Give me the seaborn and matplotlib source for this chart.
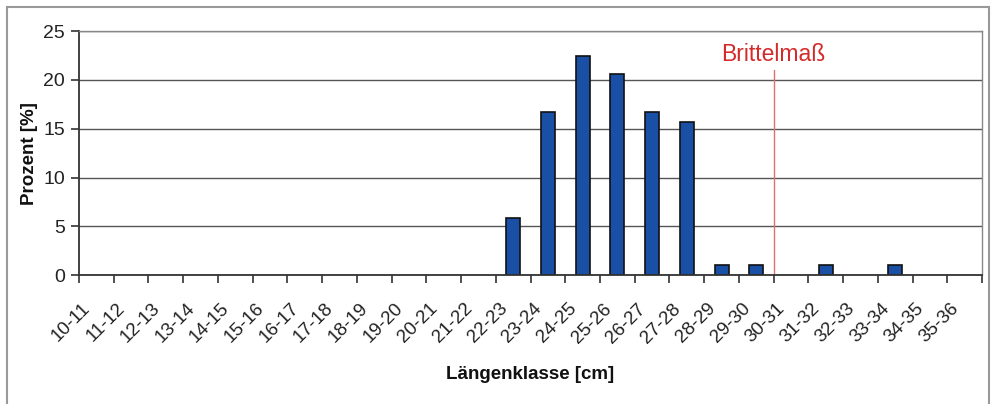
import numpy as np
import pandas as pd
import matplotlib
matplotlib.use("Agg")
import matplotlib.pyplot as plt
import seaborn as sns
from matplotlib.patches import Rectangle
from matplotlib.transforms import ScaledTranslation

classes = ["10-11", "11-12", "12-13", "13-14", "14-15", "15-16", "16-17", "17-18",
           "18-19", "19-20", "20-21", "21-22", "22-23", "23-24", "24-25", "25-26",
           "26-27", "27-28", "28-29", "29-30", "30-31", "31-32", "32-33", "33-34",
           "34-35", "35-36"]
percent = [0, 0, 0, 0, 0, 0, 0, 0,
           0, 0, 0, 0, 5.9, 16.7, 22.5, 20.6,
           16.7, 15.7, 1.0, 1.0, 0, 1.0, 0, 1.0,
           0, 0]
yticks = [0, 5, 10, 15, 20, 25]
limit_class = "30-31"
limit_label = "Brittelmaß"

df = pd.DataFrame({"Klasse": classes, "Prozent": percent})

sns.set_theme(style="ticks")
plt.rcParams["font.family"] = ["Liberation Sans", "DejaVu Sans"]

fig = plt.figure(figsize=(9.96, 4.04), dpi=100)
ax = fig.add_axes([0.0793, 0.319, 0.9067, 0.604])

sns.barplot(data=df, x="Klasse", y="Prozent", order=classes, color="#1a4fa6",
            width=0.4, edgecolor="#111111", linewidth=1.2, saturation=1, ax=ax)
for p in ax.patches:
    if p.get_height() == 0:
        p.set_linewidth(0)

n = len(classes)
ax.set_xlim(-0.5, n - 0.5)
ax.set_ylim(0, 25)
ax.set_yticks(yticks)
ax.set_yticklabels([str(v) for v in yticks], fontsize=14, color="#222222")
ax.set_xticks(np.arange(n + 1) - 0.5)
ax.set_xticklabels(classes + [""], rotation=45, ha="right", rotation_mode="anchor",
                   fontsize=13.5, color="#222222")
ax.tick_params(axis="x", which="major", bottom=True, direction="out", length=6, width=1.2,
               color="#333333", pad=12)
ax.tick_params(axis="y", which="major", left=True, direction="out", length=6, width=1.2,
               color="#333333", pad=4)
off = ScaledTranslation(2 / 72, 0, fig.dpi_scale_trans)
for lbl in ax.get_xticklabels():
    lbl.set_transform(lbl.get_transform() + off)
ax.yaxis.grid(True, color="#555555", linewidth=1.0)
ax.set_axisbelow(True)

for s in ["left", "bottom"]:
    ax.spines[s].set_visible(True)
    ax.spines[s].set_color("#333333")
    ax.spines[s].set_linewidth(1.3)
for s in ["top", "right"]:
    ax.spines[s].set_visible(True)
    ax.spines[s].set_color("#888888")
    ax.spines[s].set_linewidth(1.0)

ax.set_xlabel("Längenklasse [cm]", fontsize=13.5, fontweight="bold", color="#111111", labelpad=14)
ax.set_ylabel("Prozent [%]", fontsize=13.5, fontweight="bold", color="#111111", labelpad=4)

xi = classes.index(limit_class) - 0.5
ax.plot([xi, xi], [0, 21.0], color="#e07070", linewidth=1.0)
ax.text(xi, 22.6, limit_label, color="#d42a2a", fontsize=16.5, ha="center", va="center")

fig.patches.append(Rectangle((0.007, -0.05), 0.986, 1.033, transform=fig.transFigure,
                             fill=False, edgecolor="#999999", linewidth=1.5))

fig.savefig("out.png", dpi=100)
